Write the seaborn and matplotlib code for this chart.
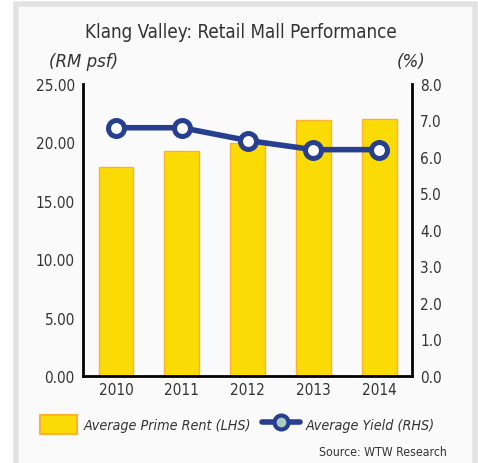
import numpy as np
import pandas as pd
import matplotlib.pyplot as plt
import matplotlib.patches as mpatches
import matplotlib.lines as mlines
import seaborn as sns

years = ['2010', '2011', '2012', '2013', '2014']
prime_rent = [17.9, 19.3, 19.95, 21.9, 22.0]
avg_yield = [6.8, 6.8, 6.45, 6.2, 6.2]

sns.set_style('white')
plt.rcParams['font.family'] = ['DejaVu Sans']
plt.rcParams['font.stretch'] = 'condensed'

navy = '#263f8f'
yellow = '#fbdb06'
orange = '#f9b233'

df = pd.DataFrame({'year': years, 'rent': prime_rent, 'yld': avg_yield})
df['pos'] = np.arange(len(df))

fig = plt.figure(figsize=(4.78, 4.64), dpi=100)
fig.patch.set_facecolor('white')
# light grey frame around the chart
fig.patches.append(mpatches.Rectangle((0.033, -0.01), 0.96, 1.0, transform=fig.transFigure,
                                      facecolor='#fafafa', edgecolor='#e2e2e2', linewidth=4, zorder=-10))

ax = fig.add_axes([0.174, 0.1875, 0.688, 0.6295])
ax.set_facecolor('none')
sns.barplot(data=df, x='year', y='rent', color=yellow, edgecolor=orange, linewidth=1,
            width=0.53, saturation=1, ax=ax)
ax.set_ylim(0, 25)
ax.set_xlim(-0.5, 4.5)
ax.set_yticks(np.arange(0, 25.1, 5))
ax.set_yticklabels([f'{v:.2f}' for v in np.arange(0, 25.1, 5)])
ax.set_xlabel('')
ax.set_ylabel('')

ax2 = ax.twinx()
sns.lineplot(data=df, x='pos', y='yld', color=navy, linewidth=4, marker='o', markersize=11.5,
             markerfacecolor='white', markeredgecolor=navy, markeredgewidth=3.6, ax=ax2)
ax2.set_ylim(0, 8)
ax2.set_yticks(np.arange(0, 8.1, 1))
ax2.set_yticklabels([f'{v:.1f}' for v in np.arange(0, 8.1, 1)])
ax2.set_ylabel('')
ax2.set_xlim(-0.5, 4.5)

for a in (ax, ax2):
    for s in a.spines.values():
        s.set_visible(False)
    a.tick_params(axis='both', length=0, labelsize=11, colors='#333333', pad=6)
ax.tick_params(axis='x', pad=4)
ax.spines['left'].set_visible(True)
ax.spines['bottom'].set_visible(True)
ax2.spines['right'].set_visible(True)
for s in (ax.spines['left'], ax.spines['bottom'], ax2.spines['right']):
    s.set_color('black')
    s.set_linewidth(2)

fig.text(0.503, 0.93, 'Klang Valley: Retail Mall Performance', ha='center', va='center',
         fontsize=13.5, color='#333333')
fig.text(0.174, 0.866, '(RM psf)', ha='center', va='center', fontsize=12,
         style='italic', stretch='normal', color='#333333')
fig.text(0.861, 0.866, '(%)', ha='center', va='center', fontsize=12,
         style='italic', stretch='normal', color='#333333')

h_bar = mpatches.Patch(facecolor=yellow, edgecolor=orange, linewidth=1.5)
h_line = mlines.Line2D([], [], color=navy, linewidth=4, marker='o', markersize=10,
                       markerfacecolor='#a9cfc5', markeredgecolor=navy, markeredgewidth=3)
fig.legend([h_bar, h_line], ['Average Prime Rent (LHS)', 'Average Yield (RHS)'],
           loc='center', bbox_to_anchor=(0.497, 0.083), ncol=2, frameon=False,
           prop={'size': 10.3, 'style': 'italic'}, handlelength=2.6, handleheight=1.6,
           columnspacing=0.8, handletextpad=0.45, labelcolor='#333333')

fig.text(0.935, 0.025, 'Source: WTW Research', ha='right', va='center', fontsize=8.8,
         color='#333333')

fig.savefig('out.png', dpi=100)
